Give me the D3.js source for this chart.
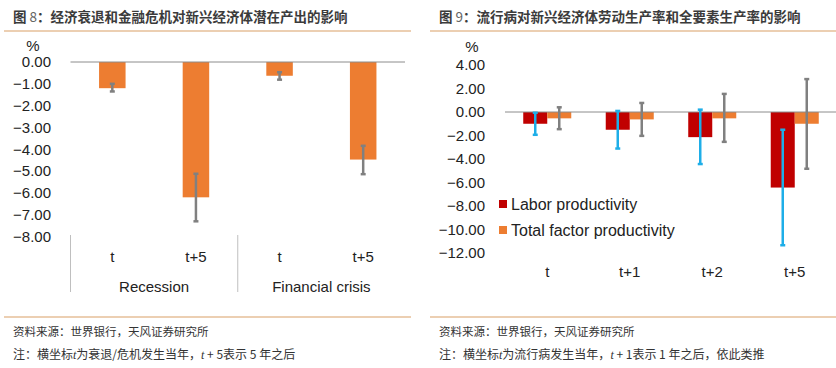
<!DOCTYPE html>
<html>
<head>
<meta charset="utf-8">
<script src="https://cdn.jsdelivr.net/npm/d3@7"></script>
<style>
  body { margin: 0; background: #fff; }
  svg text { font-family: "Liberation Sans", Arial, sans-serif; }
  .cn { font-family: "Noto Sans CJK SC", sans-serif; }
</style>
</head>
<body>
<script>
// ---- data: chart 8 ----
var groups8 = ["Recession", "Financial crisis"];
var cats8 = ["t", "t+5", "t", "t+5"];
var values8 = [-1.2, -6.2, -0.63, -4.47];
var errLow8 = [-1.35, -7.3, -0.81, -5.14];
var errHigh8 = [-1.0, -5.12, -0.47, -3.84];
var ticks8 = [0, -1, -2, -3, -4, -5, -6, -7, -8];

// ---- data: chart 9 ----
var cats9 = ["t", "t+1", "t+2", "t+5"];
var series9 = ["Labor productivity", "Total factor productivity"];
var labor9 = [-1.0, -1.51, -2.14, -6.43];
var tfp9 = [-0.54, -0.63, -0.54, -1.0];
var laborLow = [-1.94, -3.11, -4.43, -11.34];
var laborHigh = [-0.06, 0.09, 0.2, -1.51];
var tfpLow = [-1.46, -2.03, -2.54, -4.83];
var tfpHigh = [0.4, 0.77, 1.54, 2.8];
var ticks9 = [4, 2, 0, -2, -4, -6, -8, -10, -12];

var svg = d3.select("body").append("svg")
  .attr("width", 836)
  .attr("height", 368);

var orange = "#ED7D31", red = "#C00000", blue = "#1EAEE8", grey = "#808080";

// headers / footers
function frame(x0, x1, tx, num, title, note) {
  svg.append("line").attr("x1", x0).attr("x2", x1).attr("y1", 31).attr("y2", 31)
    .attr("stroke", "#D9A066").attr("stroke-width", 1.2);
  svg.append("line").attr("x1", x0).attr("x2", x1).attr("y1", 317).attr("y2", 317)
    .attr("stroke", "#D9A066").attr("stroke-width", 1.2);
  var t = svg.append("text").attr("class", "cn").attr("x", tx).attr("y", 22)
    .attr("font-size", 13.5).attr("fill", "#3b3b3b");
  t.append("tspan").attr("font-weight", "bold").text("图 ");
  t.append("tspan").attr("fill", "#666").text(num);
  t.append("tspan").attr("font-weight", "bold").text("：" + title);
  svg.append("text").attr("class", "cn").attr("x", tx).attr("y", 336)
    .attr("font-size", 11.5).attr("fill", "#333").text("资料来源：世界银行，天风证券研究所");
  var n = svg.append("text").attr("class", "cn").attr("x", tx).attr("y", 359)
    .attr("font-size", 12).attr("fill", "#333");
  note.forEach(function (p) {
    var s = n.append("tspan").text(p[0]);
    if (p[1]) s.attr("font-style", "italic").style("font-family", "'Liberation Serif', serif");
  });
}

frame(4, 411, 13, "8", "经济衰退和金融危机对新兴经济体潜在产出的影响",
  [["注：横坐标"], ["t", 1], ["为衰退/危机发生当年，"], ["t", 1], [" + 5表示 5 年之后"]]);
frame(430, 836, 439, "9", "流行病对新兴经济体劳动生产率和全要素生产率的影响",
  [["注：横坐标"], ["t", 1], ["为流行病发生当年，"], ["t", 1], [" + 1表示 1 年之后，依此类推"]]);

function errBar(g, x, lo, hi, color) {
  g.append("line").attr("x1", x).attr("x2", x).attr("y1", lo).attr("y2", hi)
    .attr("stroke", color).attr("stroke-width", 2.5);
  [lo, hi].forEach(function (y) {
    g.append("line").attr("x1", x - 2.5).attr("x2", x + 2.5).attr("y1", y).attr("y2", y)
      .attr("stroke", color).attr("stroke-width", 2.5);
  });
}

// ---- chart 8 ----
var y8 = d3.scaleLinear().domain([0, -8]).range([62, 236.6]);
var x8 = d3.scaleBand().domain(d3.range(4)).range([70.5, 405]).paddingInner(0.683).paddingOuter(0.3415);
var g8 = svg.append("g");

g8.append("g").attr("transform", "translate(54,0)")
  .call(d3.axisLeft(y8).tickValues(ticks8).tickFormat(d3.format(".2f")).tickSize(0).tickPadding(3))
  .call(function (a) {
    a.select(".domain").remove();
    a.selectAll("text").attr("font-size", 15).attr("fill", "#222")
      .style("font-family", "'Liberation Sans', Arial, sans-serif");
  });
g8.append("text").attr("x", 33).attr("y", 51).attr("text-anchor", "middle")
  .attr("font-size", 15).attr("fill", "#222").text("%");

g8.selectAll("rect.bar").data(values8).join("rect").attr("class", "bar")
  .attr("x", function (d, i) { return x8(i); })
  .attr("y", y8(0))
  .attr("width", x8.bandwidth())
  .attr("height", function (d) { return y8(d) - y8(0); })
  .attr("fill", orange);

g8.append("line").attr("x1", 70.5).attr("x2", 405).attr("y1", y8(0)).attr("y2", y8(0))
  .attr("stroke", "#8c8c8c").attr("stroke-width", 1);

values8.forEach(function (d, i) {
  errBar(g8, x8(i) + x8.bandwidth() / 2, y8(errLow8[i]), y8(errHigh8[i]), grey);
});

// multi-level category axis
var step8 = x8.step();
[70.5, 70.5 + 2 * step8].forEach(function (x) {
  g8.append("line").attr("x1", x).attr("x2", x).attr("y1", 235).attr("y2", 292)
    .attr("stroke", "#bfbfbf").attr("stroke-width", 1);
});
g8.selectAll("text.cat").data(cats8).join("text").attr("class", "cat")
  .attr("x", function (d, i) { return x8(i) + x8.bandwidth() / 2; })
  .attr("y", 262).attr("text-anchor", "middle").attr("font-size", 15).attr("fill", "#222")
  .text(function (d) { return d; });
g8.selectAll("text.grp").data(groups8).join("text").attr("class", "grp")
  .attr("x", function (d, i) { return 70.5 + step8 * (2 * i + 1); })
  .attr("y", 292).attr("text-anchor", "middle").attr("font-size", 15).attr("fill", "#222")
  .text(function (d) { return d; });

// ---- chart 9 ----
var y9 = d3.scaleLinear().domain([4, -12]).range([65, 253]);
var x9 = d3.scaleBand().domain(cats9).range([506, 836]).paddingInner(0.418).paddingOuter(0.209);
var x9s = d3.scaleBand().domain(series9).range([0, x9.bandwidth()]);
var g9 = svg.append("g");

g9.append("g").attr("transform", "translate(488,0)")
  .call(d3.axisLeft(y9).tickValues(ticks9).tickFormat(d3.format(".2f")).tickSize(0).tickPadding(3))
  .call(function (a) {
    a.select(".domain").remove();
    a.selectAll("text").attr("font-size", 15).attr("fill", "#222")
      .style("font-family", "'Liberation Sans', Arial, sans-serif");
  });
g9.append("text").attr("x", 472).attr("y", 52).attr("text-anchor", "middle")
  .attr("font-size", 15).attr("fill", "#222").text("%");

var rows9 = cats9.map(function (c, i) {
  return [
    { cat: c, s: series9[0], v: labor9[i], lo: laborLow[i], hi: laborHigh[i], fill: red, ec: blue },
    { cat: c, s: series9[1], v: tfp9[i], lo: tfpLow[i], hi: tfpHigh[i], fill: orange, ec: grey }
  ];
});
var flat9 = [].concat.apply([], rows9);

g9.selectAll("rect.bar").data(flat9).join("rect").attr("class", "bar")
  .attr("x", function (d) { return x9(d.cat) + x9s(d.s); })
  .attr("y", y9(0))
  .attr("width", x9s.bandwidth())
  .attr("height", function (d) { return y9(d.v) - y9(0); })
  .attr("fill", function (d) { return d.fill; });

g9.append("line").attr("x1", 505).attr("x2", 836).attr("y1", y9(0)).attr("y2", y9(0))
  .attr("stroke", "#8c8c8c").attr("stroke-width", 1);

flat9.forEach(function (d) {
  errBar(g9, x9(d.cat) + x9s(d.s) + x9s.bandwidth() / 2, y9(d.lo), y9(d.hi), d.ec);
});

g9.selectAll("text.cat").data(cats9).join("text").attr("class", "cat")
  .attr("x", function (d) { return x9(d) + x9.bandwidth() / 2; })
  .attr("y", 277).attr("text-anchor", "middle").attr("font-size", 15).attr("fill", "#222")
  .text(function (d) { return d; });

// legend
var leg = g9.selectAll("g.leg").data(series9).join("g").attr("class", "leg")
  .attr("transform", function (d, i) { return "translate(499," + (204 + i * 26) + ")"; });
leg.append("rect").attr("x", 0).attr("y", -4).attr("width", 8).attr("height", 8)
  .attr("fill", function (d, i) { return i === 0 ? red : orange; });
leg.append("text").attr("x", 12).attr("y", 5.5).attr("font-size", 16).attr("fill", "#222")
  .text(function (d) { return d; });
</script>
</body>
</html>
